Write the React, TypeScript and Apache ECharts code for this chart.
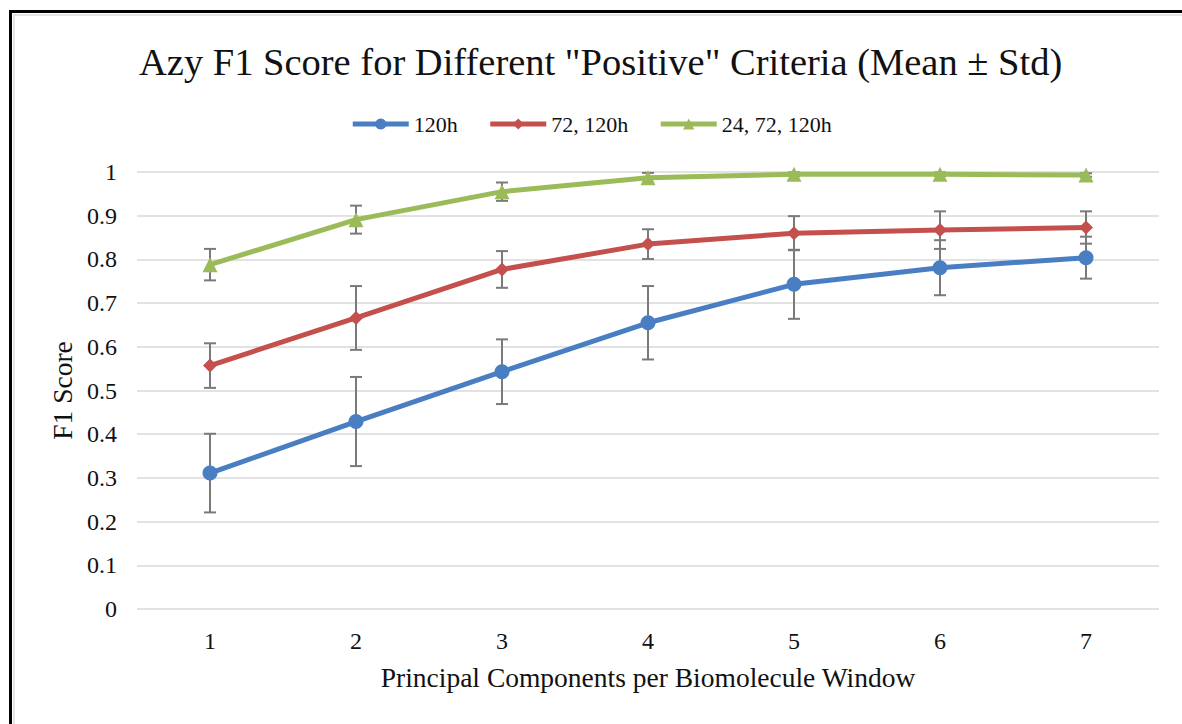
import React, { useEffect, useRef } from "react";
import * as echarts from "echarts";

const categories = ["1", "2", "3", "4", "5", "6", "7"];
const seriesNames = ["120h", "72, 120h", "24, 72, 120h"];
const blueMean = [0.311, 0.429, 0.543, 0.655, 0.743, 0.781, 0.804];
const blueStd = [0.09, 0.102, 0.074, 0.084, 0.079, 0.063, 0.048];
const redMean = [0.557, 0.666, 0.777, 0.835, 0.86, 0.867, 0.873];
const redStd = [0.051, 0.073, 0.042, 0.034, 0.039, 0.043, 0.037];
const greenMean = [0.788, 0.891, 0.955, 0.987, 0.995, 0.995, 0.993];
const greenStd = [0.036, 0.032, 0.021, 0.011, 0.004, 0.004, 0.004];
const yTicks = [0, 0.1, 0.2, 0.3, 0.4, 0.5, 0.6, 0.7, 0.8, 0.9, 1];

const colors = ["#4A7EC2", "#C4504D", "#9BBB59"];
const FONT = "Liberation Serif";

export default function App() {
  const ref = useRef<HTMLDivElement>(null);
  useEffect(() => {
    const chart = echarts.init(ref.current!, null, { renderer: "svg" });
    const means = [blueMean, redMean, greenMean];
    const stds = [blueStd, redStd, greenStd];
    const symbols = ["circle", "diamond", "triangle"];
    const symbolSizes = [15, 14, 15];

    const errSeries = means.map((m, si) => ({
      type: "custom",
      name: seriesNames[si] + " err",
      z: 1,
      silent: true,
      renderItem: (params: any, api: any) => {
        const xi = api.value(0);
        const lo = api.coord([xi, api.value(1)]);
        const hi = api.coord([xi, api.value(2)]);
        const hw = 6;
        const st = { stroke: "#7a7a7a", lineWidth: 2 };
        return {
          type: "group",
          children: [
            { type: "line", shape: { x1: lo[0], y1: lo[1], x2: hi[0], y2: hi[1] }, style: st },
            { type: "line", shape: { x1: lo[0] - hw, y1: lo[1], x2: lo[0] + hw, y2: lo[1] }, style: st },
            { type: "line", shape: { x1: hi[0] - hw, y1: hi[1], x2: hi[0] + hw, y2: hi[1] }, style: st },
          ],
        };
      },
      data: m.map((v, i) => [i, v - stds[si][i], v + stds[si][i]]),
      encode: { x: 0, y: [1, 2] },
    }));

    const lineSeries = means.map((m, si) => ({
      type: "line",
      name: seriesNames[si],
      data: m,
      z: 3,
      symbol: symbols[si],
      symbolSize: symbolSizes[si],
      showAllSymbol: true,
      lineStyle: { width: 5, color: colors[si] },
      itemStyle: { color: colors[si] },
    }));

    chart.setOption({
      animation: false,
      backgroundColor: "#fff",
      title: {
        text: 'Azy F1 Score for Different "Positive" Criteria (Mean ± Std)',
        left: 134,
        top: 37,
        textStyle: { fontFamily: FONT, fontSize: 38.5, fontWeight: "normal", color: "#111" },
      },
      legend: {
        data: seriesNames,
        top: 108,
        left: "center",
        itemWidth: 56,
        itemHeight: 14,
        itemGap: 30,
        lineStyle: { width: 5 },
        textStyle: { fontFamily: FONT, fontSize: 22, color: "#111" },
      },
      grid: { left: 137, right: 23, top: 172, bottom: 115 },
      xAxis: {
        type: "category",
        data: categories,
        boundaryGap: true,
        axisLine: { show: false },
        axisTick: { show: false },
        axisLabel: { fontFamily: FONT, fontSize: 24, color: "#111", margin: 20 },
        name: "Principal Components per Biomolecule Window",
        nameLocation: "middle",
        nameGap: 54,
        nameTextStyle: { fontFamily: FONT, fontSize: 27.5, color: "#111" },
      },
      yAxis: {
        type: "value",
        min: 0,
        max: 1,
        interval: 0.1,
        axisLine: { show: false },
        axisTick: { show: false },
        splitLine: { lineStyle: { color: "#d9d9d9", width: 1.5 } },
        axisLabel: {
          fontFamily: FONT,
          fontSize: 24,
          color: "#111",
          margin: 20,
          formatter: (v: number) => {
            const t = yTicks.find((x) => Math.abs(x - v) < 1e-6);
            return t === undefined ? "" : String(t);
          },
        },
        name: "F1 Score",
        nameLocation: "middle",
        nameGap: 61,
        nameRotate: 90,
        nameTextStyle: { fontFamily: FONT, fontSize: 27.5, color: "#111" },
      },
      graphic: [
        { type: "rect", shape: { x: 10.5, y: 11.5, width: 1400, height: 900 }, style: { fill: "none", stroke: "#000", lineWidth: 3 }, z: 100 },
        { type: "rect", shape: { x: 14, y: 15, width: 1400, height: 900 }, style: { fill: "none", stroke: "#dcdcdc", lineWidth: 1.5 }, z: 100 },
      ],
      series: [...errSeries, ...lineSeries],
    });
    return () => chart.dispose();
  }, []);
  return <div ref={ref} style={{ position: "fixed", left: 0, top: 0, width: 1182, height: 724 }} />;
}
